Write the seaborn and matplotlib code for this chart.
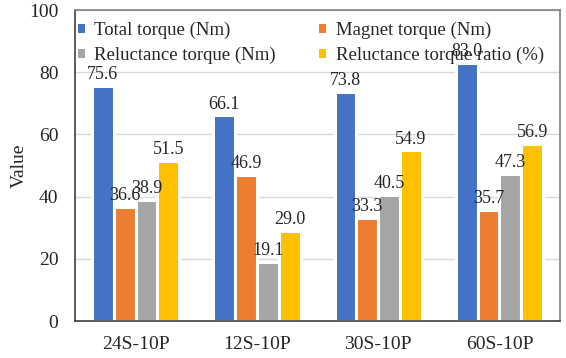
import matplotlib
matplotlib.use("Agg")
import matplotlib.pyplot as plt
from matplotlib.patches import Patch
import seaborn as sns
import pandas as pd

categories = ["24S-10P", "12S-10P", "30S-10P", "60S-10P"]
series = ["Total torque (Nm)", "Magnet torque (Nm)",
          "Reluctance torque (Nm)", "Reluctance torque ratio (%)"]
total_torque = [75.6, 66.1, 73.8, 83.0]
magnet_torque = [36.6, 46.9, 33.3, 35.7]
reluctance_torque = [38.9, 19.1, 40.5, 47.3]
reluctance_ratio = [51.5, 29.0, 54.9, 56.9]
colors = ["#4472C4", "#ED7D31", "#A5A5A5", "#FFC000"]

values = [total_torque, magnet_torque, reluctance_torque, reluctance_ratio]
rows = []
for name, vals in zip(series, values):
    for cat, v in zip(categories, vals):
        rows.append({"Configuration": cat, "Series": name, "Value": v})
df = pd.DataFrame(rows)

sns.set_theme(style="white")
plt.rcParams["font.family"] = ["Liberation Serif", "DejaVu Serif"]
serif = "Liberation Serif"

fig = plt.figure(figsize=(5.66, 3.58), dpi=100)
ax = fig.add_axes([0.1325, 0.103, 0.857, 0.869])

sns.barplot(data=df, x="Configuration", y="Value", hue="Series",
            order=categories, hue_order=series, palette=colors,
            width=0.72, edgecolor="white", linewidth=2.2, ax=ax,
            errorbar=None, saturation=1, legend=False)

for cont in ax.containers:
    ax.bar_label(cont, fmt="%.1f", padding=2, fontsize=13,
                 family=serif, color="#262626")

ax.set_ylim(0, 100)
ax.set_yticks([0, 20, 40, 60, 80, 100])
ax.yaxis.grid(True, color="#D9D9D9", linewidth=1)
ax.set_axisbelow(True)
ax.tick_params(axis="both", length=0, labelsize=14, colors="#262626")
ax.tick_params(axis="x", pad=11)
ax.tick_params(axis="y", pad=12)
for lbl in ax.get_xticklabels() + ax.get_yticklabels():
    lbl.set_family(serif)
ax.set_xlabel("")
ax.set_ylabel("Value", fontsize=14, color="#262626", family=serif)
ax.yaxis.set_label_coords(-0.097, 0.5)
for side in ["left", "bottom"]:
    ax.spines[side].set_color("#404040")
    ax.spines[side].set_linewidth(1.2)
for side in ["top", "right"]:
    ax.spines[side].set_color("#7F7F7F")
    ax.spines[side].set_linewidth(1.2)

# legend laid out row-wise: Total / Magnet on top, Reluctance / Ratio below
order = [0, 2, 1, 3]
handles = [Patch(facecolor=colors[i], edgecolor="none") for i in order]
ax.legend(handles, [series[i] for i in order],
          ncol=2, loc="upper left", bbox_to_anchor=(0.006, 0.962),
          frameon=False, prop={"family": serif, "size": 13.5},
          handlelength=0.38, handleheight=0.38, handletextpad=0.5,
          columnspacing=2.3, labelspacing=0.4, borderaxespad=0,
          borderpad=0, labelcolor="#262626")

fig.savefig("out.png", dpi=100)
